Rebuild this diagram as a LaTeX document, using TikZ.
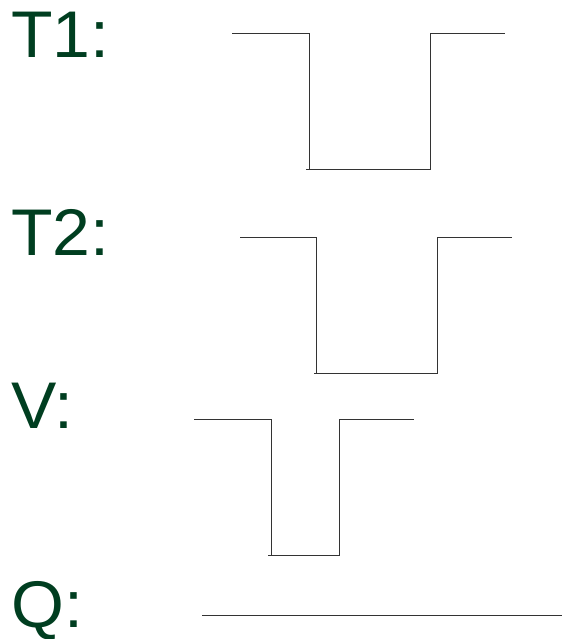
\documentclass[tikz,border=0pt]{standalone}
\usepackage{fontspec}
\setmainfont{Liberation Sans}
\definecolor{lblgreen}{RGB}{0,62,32}
\begin{document}
\begin{tikzpicture}[x=1pt,y=-1pt,
  lbl/.style={anchor=base west,inner sep=0pt,text=lblgreen,font=\fontsize{66}{66}\selectfont,xscale=1.03},
  wave/.style={draw=black!80,line width=0.9pt}]
\useasboundingbox (0,0) rectangle (562,639);
\node[lbl] (t1) at (11,58) {T1:};
\node[lbl] (t2) at (11,255) {T2:};
\node[lbl] (v) at (11,428) {V:};
\node[lbl] (q) at (11,627) {Q:};
% T1
\draw[wave] (232,33.5) -- (309,33.5) -- (309,169.5);
\draw[wave] (306,169.5) -- (430,169.5) -- (430,33.5) -- (505,33.5);
% T2
\draw[wave] (240,237.5) -- (316,237.5) -- (316,373.5);
\draw[wave] (314,373.5) -- (437,373.5) -- (437,237.5) -- (512,237.5);
% V
\draw[wave] (194,419) -- (271,419) -- (271,555);
\draw[wave] (268,555) -- (339,555) -- (339,419) -- (414,419);
% Q
\draw[wave] (202,615.5) -- (562,615.5);
\end{tikzpicture}
\end{document}
